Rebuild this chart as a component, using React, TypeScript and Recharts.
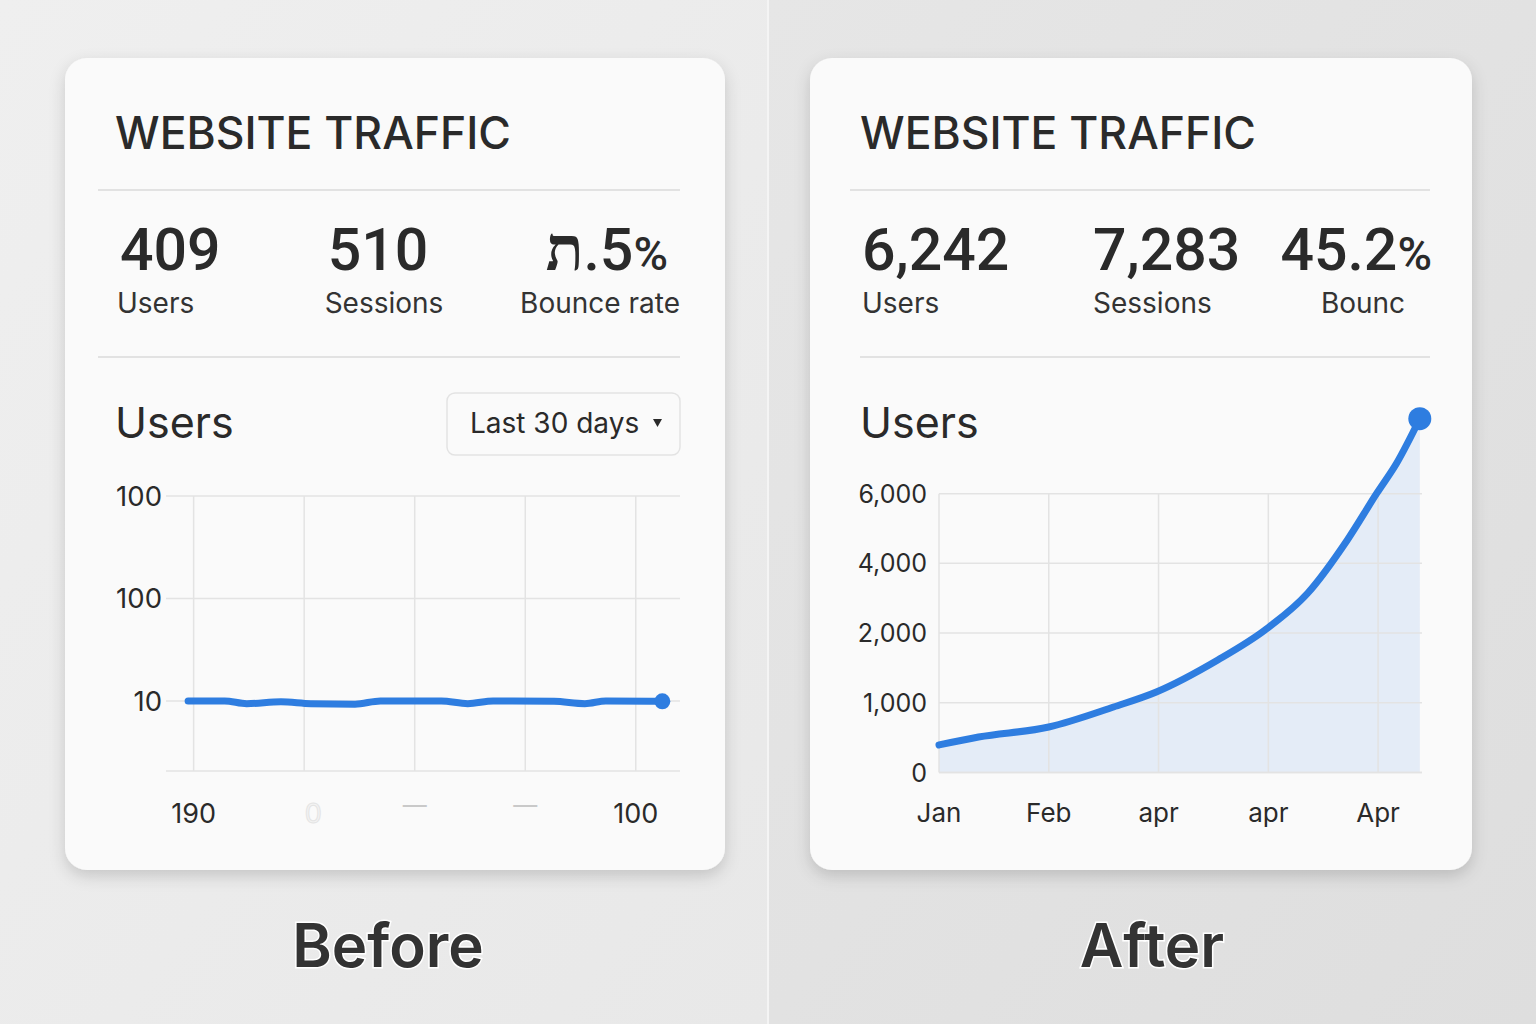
import { ComposedChart, LineChart, Line, Area, XAxis, YAxis, ReferenceLine } from 'recharts'

const FONT = 'Inter, "Noto Sans", "DejaVu Sans", sans-serif'
const NUM_FONT = 'Roboto, Inter, sans-serif'
const BLUE = '#2e7de0'
const GRID = '#e3e3e3'
const INK = '#2a2a2a'

// ---- Before: last 30 days ----
const beforeStatValues = ['409', '510', 'ת.5%']
const beforeStatLabels = ['Users', 'Sessions', 'Bounce rate']
const beforeYTicks = [10, 100, 1000]
const beforeYLabels = ['10', '100', '100']
const beforeXLabels = ['190', '0', '—', '—', '100']
// position along the x axis (tick units) and daily users
const beforeX = [-0.05, 0.28, 0.48, 0.79, 1.06, 1.46, 1.69, 2.24, 2.48, 2.71, 3.26, 3.54, 3.73, 4.24]
const beforeUsers = [10, 10, 9.4, 9.8, 9.4, 9.3, 10, 10, 9.4, 10, 9.9, 9.4, 10, 9.9]

// ---- After ----
const afterStatValues = ['6,242', '7,283', '45.2%']
const afterStatLabels = ['Users', 'Sessions', 'Bounc']
const afterYTicks = [0, 1000, 2000, 4000, 6000]
const afterYLabels = ['0', '1,000', '2,000', '4,000', '6,000']
const afterXLabels = ['Jan', 'Feb', 'apr', 'apr', 'Apr']
const afterX = [0, 0.36, 1.0, 1.59, 1.98, 2.54, 2.97, 3.36, 3.72, 3.99, 4.17, 4.38]
const afterUsers = [395, 509, 653, 940, 1155, 1614, 2088, 3150, 4672, 6020, 6880, 8150]

const xTicks = [0, 1, 2, 3, 4]
const afterSteps = afterYTicks.map((_, i) => i)

// the after axis puts its labels at even steps, so users are placed piecewise between them
function toStep(v: number) {
  const t = afterYTicks
  for (let i = 1; i < t.length; i++) {
    if (v <= t[i]) return i - 1 + (v - t[i - 1]) / (t[i] - t[i - 1])
  }
  const last = t.length - 1
  return last + (v - t[last]) / (t[last] - t[last - 1])
}

const beforeData = beforeX.map((x, i) => ({ x, users: beforeUsers[i] }))
const afterData = afterX.map((x, i) => ({ x, users: afterUsers[i], step: toStep(afterUsers[i]) }))

function lastDot(count: number, r: number) {
  return (props: any) => {
    const { cx, cy, index } = props
    if (index !== count - 1) return <g key={`d${index}`} />
    return <circle key={`d${index}`} cx={cx} cy={cy} r={r} fill={BLUE} />
  }
}

function StatValue({ x, anchor, value }: { x: number; anchor: 'start' | 'middle' | 'end'; value: string }) {
  const pct = value.endsWith('%')
  const body = pct ? value.slice(0, -1) : value
  const head = /^[^\x00-\x7f]/.test(body) ? body[0] : ''
  const rest = head ? body.slice(1) : body
  return (
    <text x={x} y={270} textAnchor={anchor} fontFamily={NUM_FONT} fontSize={59} fontWeight={500} fill={INK}
      style={{ direction: 'ltr', unicodeBidi: 'bidi-override' }}>
      {head && <tspan fontFamily='"DejaVu Serif", serif' fontWeight={700} fontSize={62}>{head}</tspan>}
      <tspan>{rest}</tspan>
      {pct && <tspan fontSize={47}>%</tspan>}
    </text>
  )
}

function Card({ x, w, title, values, labels, valueX, valueAnchor, labelX, labelAnchor, rule1, rule2 }: any) {
  return (
    <g fontFamily={FONT}>
      <rect x={x} y={58} width={w} height={812} rx={22} fill="#fafafa" filter="url(#cardShadow)" />
      <text x={x + 50} y={149} fontSize={44.5} fontWeight={500} fill={INK}>{title}</text>
      <line x1={rule1[0]} x2={rule1[1]} y1={190} y2={190} stroke="#e2e2e2" strokeWidth={2} />
      {values.map((v: string, i: number) => (
        <StatValue key={i} x={valueX[i]} anchor={valueAnchor[i]} value={v} />
      ))}
      {labels.map((l: string, i: number) => (
        <text key={i} x={labelX[i]} y={313} textAnchor={labelAnchor[i]} fontSize={28} fill="#333">{l}</text>
      ))}
      <line x1={rule2[0]} x2={rule2[1]} y1={357} y2={357} stroke="#e2e2e2" strokeWidth={2} />
      <text x={x + 50} y={438} fontSize={43} fill={INK}>Users</text>
    </g>
  )
}

function BeforeYTick({ x, y, payload }: any) {
  const i = beforeYTicks.indexOf(payload.value)
  return (
    <text x={x} y={y} dy="0.36em" textAnchor="end" fontSize={27.5} fontFamily={FONT} fill={INK}>
      {beforeYLabels[i]}
    </text>
  )
}

function BeforeXTick({ x, y, payload }: any) {
  const i = payload.value as number
  const label = beforeXLabels[i]
  const strong = i === 0 || i === beforeXLabels.length - 1
  if (label === '—') {
    return <text x={x} y={y + 40} textAnchor="middle" fontSize={24} fontFamily={FONT} fill="#c9c9c9">{label}</text>
  }
  return (
    <text x={strong ? x : x + 9} y={y + 50} textAnchor="middle" fontSize={27} fontFamily={FONT}
      fill={strong ? INK : '#f3f3f3'} stroke={strong ? 'none' : '#e4e4e4'} strokeWidth={1}>
      {label}
    </text>
  )
}

function AfterYTick({ x, y, payload }: any) {
  return (
    <text x={x} y={y} dy="0.36em" textAnchor="end" fontSize={25} fontFamily={FONT} fill={INK}>
      {afterYLabels[payload.value]}
    </text>
  )
}

function AfterXTick({ x, y, payload }: any) {
  return (
    <text x={x} y={y + 47} textAnchor="middle" fontSize={26} fontFamily={FONT} fill={INK}>
      {afterXLabels[payload.value]}
    </text>
  )
}

export default function App() {
  return (
    <div style={{ position: 'absolute', left: 0, top: 0, width: 1536, height: 1024, overflow: 'hidden' }}>
      <svg width={1536} height={1024} style={{ position: 'absolute', left: 0, top: 0 }}>
        <defs>
          <linearGradient id="bgLeft" x1="0" y1="0" x2="1" y2="1">
            <stop offset="0%" stopColor="#efefef" />
            <stop offset="100%" stopColor="#e8e8e8" />
          </linearGradient>
          <linearGradient id="bgRight" x1="0" y1="0" x2="1" y2="1">
            <stop offset="0%" stopColor="#e6e6e6" />
            <stop offset="100%" stopColor="#dedede" />
          </linearGradient>
          <filter id="cardShadow" x="-10%" y="-10%" width="120%" height="125%">
            <feDropShadow dx={0} dy={6} stdDeviation={8} floodColor="#000" floodOpacity={0.16} />
          </filter>
        </defs>
        <rect x={0} y={0} width={768} height={1024} fill="url(#bgLeft)" />
        <rect x={768} y={0} width={768} height={1024} fill="url(#bgRight)" />
        <line x1={768} x2={768} y1={0} y2={1024} stroke="#f4f4f4" strokeWidth={2} />

        <Card x={65} w={660} title="WEBSITE TRAFFIC" values={beforeStatValues} labels={beforeStatLabels}
          valueX={[120, 378, 668]} valueAnchor={['start', 'middle', 'end']}
          labelX={[117, 384, 680]} labelAnchor={['start', 'middle', 'end']}
          rule1={[98, 680]} rule2={[98, 680]} />
        <Card x={810} w={662} title="WEBSITE TRAFFIC" values={afterStatValues} labels={afterStatLabels}
          valueX={[862, 1093, 1432]} valueAnchor={['start', 'start', 'end']}
          labelX={[862, 1093, 1363]} labelAnchor={['start', 'start', 'middle']}
          rule1={[850, 1430]} rule2={[860, 1430]} />

        {/* date range picker */}
        <g fontFamily={FONT}>
          <rect x={447} y={393} width={233} height={62} rx={8} fill="#fafafa" stroke="#e3e3e3" strokeWidth={1.5} />
          <text x={470} y={433} fontSize={28} fill={INK}>Last 30 days</text>
          <path d="M653 419 L662 419 L657.5 427 Z" fill={INK} />
        </g>

        <g fontFamily={FONT} fontSize={60} fontWeight={600} fill="#333" stroke="#fff" strokeWidth={3}
          style={{ paintOrder: 'stroke' }} textAnchor="middle">
          <text x={388} y={967}>Before</text>
          <text x={1152} y={967}>After</text>
        </g>
      </svg>

      <div style={{ position: 'absolute', left: 60, top: 470 }}>
        <LineChart width={640} height={370} data={beforeData} margin={{ top: 26, right: 20, bottom: 0, left: 0 }}>
          <XAxis dataKey="x" type="number" domain={[-0.25, 4.4]} ticks={xTicks}
            height={69} tickSize={0} tick={<BeforeXTick />} stroke={GRID} strokeWidth={1.5} />
          <YAxis type="number" scale="log" domain={[2.07, 1000]} ticks={beforeYTicks}
            width={106} tickSize={0} tickMargin={4} axisLine={false} tick={<BeforeYTick />} />
          {beforeYTicks.map((t) => (
            <ReferenceLine key={`h${t}`} y={t} stroke={GRID} strokeWidth={1.5} />
          ))}
          {xTicks.map((t) => (
            <ReferenceLine key={`v${t}`} x={t} stroke={GRID} strokeWidth={1.5} />
          ))}
          <Line dataKey="users" type="monotone" stroke={BLUE} strokeWidth={7} strokeLinecap="round"
            dot={lastDot(beforeData.length, 8)} activeDot={false} isAnimationActive={false} />
        </LineChart>
      </div>

      <div style={{ position: 'absolute', left: 810, top: 380 }}>
        <ComposedChart width={632} height={460} data={afterData} margin={{ top: 23, right: 20, bottom: 0, left: 0 }}>
          <XAxis dataKey="x" type="number" domain={[0, 4.4]} ticks={xTicks}
            height={67.5} tickSize={0} tick={<AfterXTick />} stroke={GRID} strokeWidth={1.5} />
          <YAxis type="number" domain={[0, 5.3]} ticks={afterSteps}
            width={129} tickSize={0} tickMargin={12} axisLine={false} tick={<AfterYTick />} />
          {afterSteps.map((t) => (
            <ReferenceLine key={`h${t}`} y={t} stroke={GRID} strokeWidth={1.5} />
          ))}
          {xTicks.map((t) => (
            <ReferenceLine key={`v${t}`} segment={[{ x: t, y: 0 }, { x: t, y: afterSteps.length - 1 }]}
              stroke={GRID} strokeWidth={1.5} />
          ))}
          <Area dataKey="step" type="monotone" baseValue={0} stroke="none" fill="#dce7f6" fillOpacity={0.75}
            isAnimationActive={false} />
          <Line dataKey="step" type="monotone" stroke={BLUE} strokeWidth={7} strokeLinecap="round"
            dot={lastDot(afterData.length, 11.5)} activeDot={false} isAnimationActive={false} />
        </ComposedChart>
      </div>
    </div>
  )
}
